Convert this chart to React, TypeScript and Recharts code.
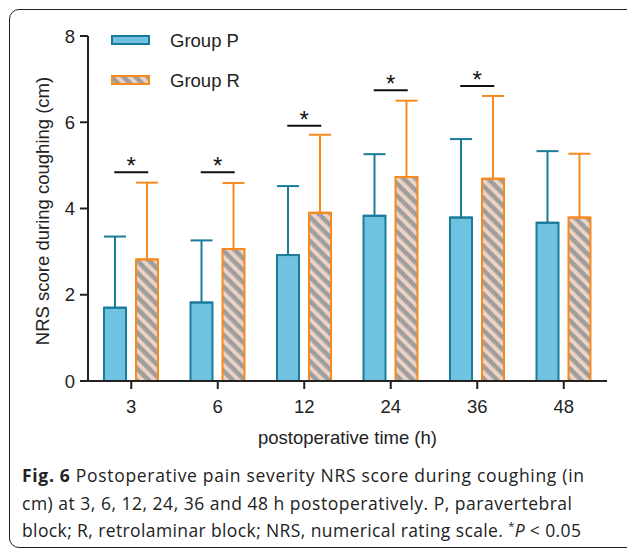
import React from "react";
import {
  ComposedChart,
  Bar,
  ErrorBar,
  Scatter,
  XAxis,
  YAxis,
} from "recharts";

// postoperative hours
const categories = ["3", "6", "12", "24", "36", "48"];
// mean NRS score, group P (paravertebral)
const groupP = [1.7, 1.82, 2.92, 3.83, 3.79, 3.67];
const groupPSd = [1.65, 1.44, 1.6, 1.43, 1.82, 1.66];
// mean NRS score, group R (retrolaminar)
const groupR = [2.82, 3.06, 3.9, 4.73, 4.69, 3.79];
const groupRSd = [1.78, 1.53, 1.81, 1.77, 1.92, 1.48];
// height of the "*" significance bracket (null = not significant)
const sigLevel: (number | null)[] = [4.84, 4.84, 5.92, 6.74, 6.84, null];
const yTicks = [0, 2, 4, 6, 8];

const data = categories.map((c, i) => ({
  time: c,
  p: groupP[i],
  pSd: groupPSd[i],
  r: groupR[i],
  rSd: groupRSd[i],
  sig: sigLevel[i],
}));

const INK = "#222";
const P_FILL = "#6fc3e0";
const P_STROKE = "#1b7c99";
const R_FILL = "#ecd2c2";
const R_STROKE = "#f7891f";
const STRIPE = "#9e9e9e";
const FONT = "'Liberation Sans', Arial, sans-serif";
const FS = 18.5;

function StripeDefs({ id }: { id: string }) {
  return (
    <defs>
      <pattern
        id={id}
        patternUnits="userSpaceOnUse"
        width={8.5}
        height={8.5}
        patternTransform="rotate(45)"
      >
        <rect width={8.5} height={8.5} fill={R_FILL} />
        <rect width={8.5} height={4.5} fill={STRIPE} />
      </pattern>
    </defs>
  );
}

function SigMark(props: any) {
  const { cx, cy, payload } = props;
  if (payload == null || payload.sig == null || cy == null || isNaN(cy)) return <g />;
  return (
    <g>
      <line x1={cx - 17} x2={cx + 17} y1={cy} y2={cy} stroke="#111" strokeWidth={2} />
      <text x={cx} y={cy + 2} textAnchor="middle" fontSize={24} fontFamily={FONT} fill="#111">
        *
      </text>
    </g>
  );
}

function LegendBox() {
  return (
    <svg width={200} height={70} style={{ position: "absolute", left: 100, top: 26 }}>
      <StripeDefs id="stripeLegend" />
      <rect x={12} y={10} width={37} height={8} fill={P_FILL} stroke={P_STROKE} strokeWidth={2} />
      <text x={70} y={20.5} fontSize={FS} fontFamily={FONT} fill={INK}>
        Group P
      </text>
      <rect x={12} y={50} width={37} height={8} fill="url(#stripeLegend)" stroke={R_STROKE} strokeWidth={2} />
      <text x={70} y={60.5} fontSize={FS} fontFamily={FONT} fill={INK}>
        Group R
      </text>
    </svg>
  );
}

export default function App() {
  return (
    <div
      style={{
        position: "fixed",
        left: 0,
        top: 0,
        width: 627,
        height: 550,
        overflow: "hidden",
        background: "#fff",
      }}
    >
      <div
        style={{
          position: "absolute",
          left: 9,
          top: 9,
          width: 660,
          height: 537,
          border: `1.6px solid ${INK}`,
          borderRadius: 10,
        }}
      />
      <div style={{ position: "absolute", left: 0, top: 0 }}>
        <ComposedChart
          width={627}
          height={460}
          data={data}
          margin={{ top: 36, right: 20, left: 0, bottom: 49 }}
          barSize={22}
          barGap={10}
        >
          <StripeDefs id="stripeBar" />
          <XAxis
            dataKey="time"
            axisLine={{ stroke: INK, strokeWidth: 2 }}
            tickLine={{ stroke: INK, strokeWidth: 2 }}
            tickSize={8}
            tickMargin={11}
            height={30}
            tick={{ fontSize: FS, fill: INK, fontFamily: FONT }}
            label={{
              content: (p: any) => {
                const vb = p.viewBox;
                return (
                  <text
                    x={vb.x + vb.width / 2}
                    y={444}
                    textAnchor="middle"
                    fontSize={FS}
                    fontFamily={FONT}
                    fill={INK}
                  >
                    postoperative time (h)
                  </text>
                );
              },
            }}
          />
          <YAxis
            domain={[0, 8]}
            ticks={yTicks}
            width={88}
            axisLine={{ stroke: INK, strokeWidth: 2 }}
            tickLine={{ stroke: INK, strokeWidth: 2 }}
            tickSize={8}
            tickMargin={5}
            tick={{ fontSize: FS, fill: INK, fontFamily: FONT }}
            label={{
              content: (p: any) => {
                const vb = p.viewBox;
                const cy = vb.y + vb.height / 2 + 2.5;
                return (
                  <text
                    x={49}
                    y={cy}
                    transform={`rotate(-90 49 ${cy})`}
                    textAnchor="middle"
                    fontSize={FS}
                    fontFamily={FONT}
                    fill={INK}
                  >
                    NRS score during coughing (cm)
                  </text>
                );
              },
            }}
          />
          <Bar dataKey="p" fill={P_FILL} stroke={P_STROKE} strokeWidth={2} isAnimationActive={false}>
            <ErrorBar
              dataKey={(d: any) => [0, d.pSd]}
              width={11}
              stroke={P_STROKE}
              strokeWidth={2}
              direction="y"
            />
          </Bar>
          <Bar dataKey="r" fill="url(#stripeBar)" stroke={R_STROKE} strokeWidth={2} isAnimationActive={false}>
            <ErrorBar
              dataKey={(d: any) => [0, d.rSd]}
              width={11}
              stroke={R_STROKE}
              strokeWidth={2}
              direction="y"
            />
          </Bar>
          <Scatter dataKey="sig" shape={SigMark} isAnimationActive={false} />
        </ComposedChart>
        <LegendBox />
      </div>
      <svg width={627} height={86} style={{ position: "absolute", left: 0, top: 462 }}>
        <g fontFamily="'Open Sans', 'Noto Sans', sans-serif" fontSize={17.5} fill={INK}>
          <text x={22} y={20} textLength={562}>
            <tspan fontWeight="bold">Fig. 6</tspan> Postoperative pain severity NRS score during coughing (in
          </text>
          <text x={22} y={47.5} textLength={550}>
            cm) at 3, 6, 12, 24, 36 and 48 h postoperatively. P, paravertebral
          </text>
          <text x={22} y={75} textLength={559}>
            block; R, retrolaminar block; NRS, numerical rating scale.{" "}
            <tspan fontSize={11} dy={-7}>*</tspan>
            <tspan fontStyle="italic" dy={7}>P</tspan> &lt; 0.05
          </text>
        </g>
      </svg>
    </div>
  );
}
